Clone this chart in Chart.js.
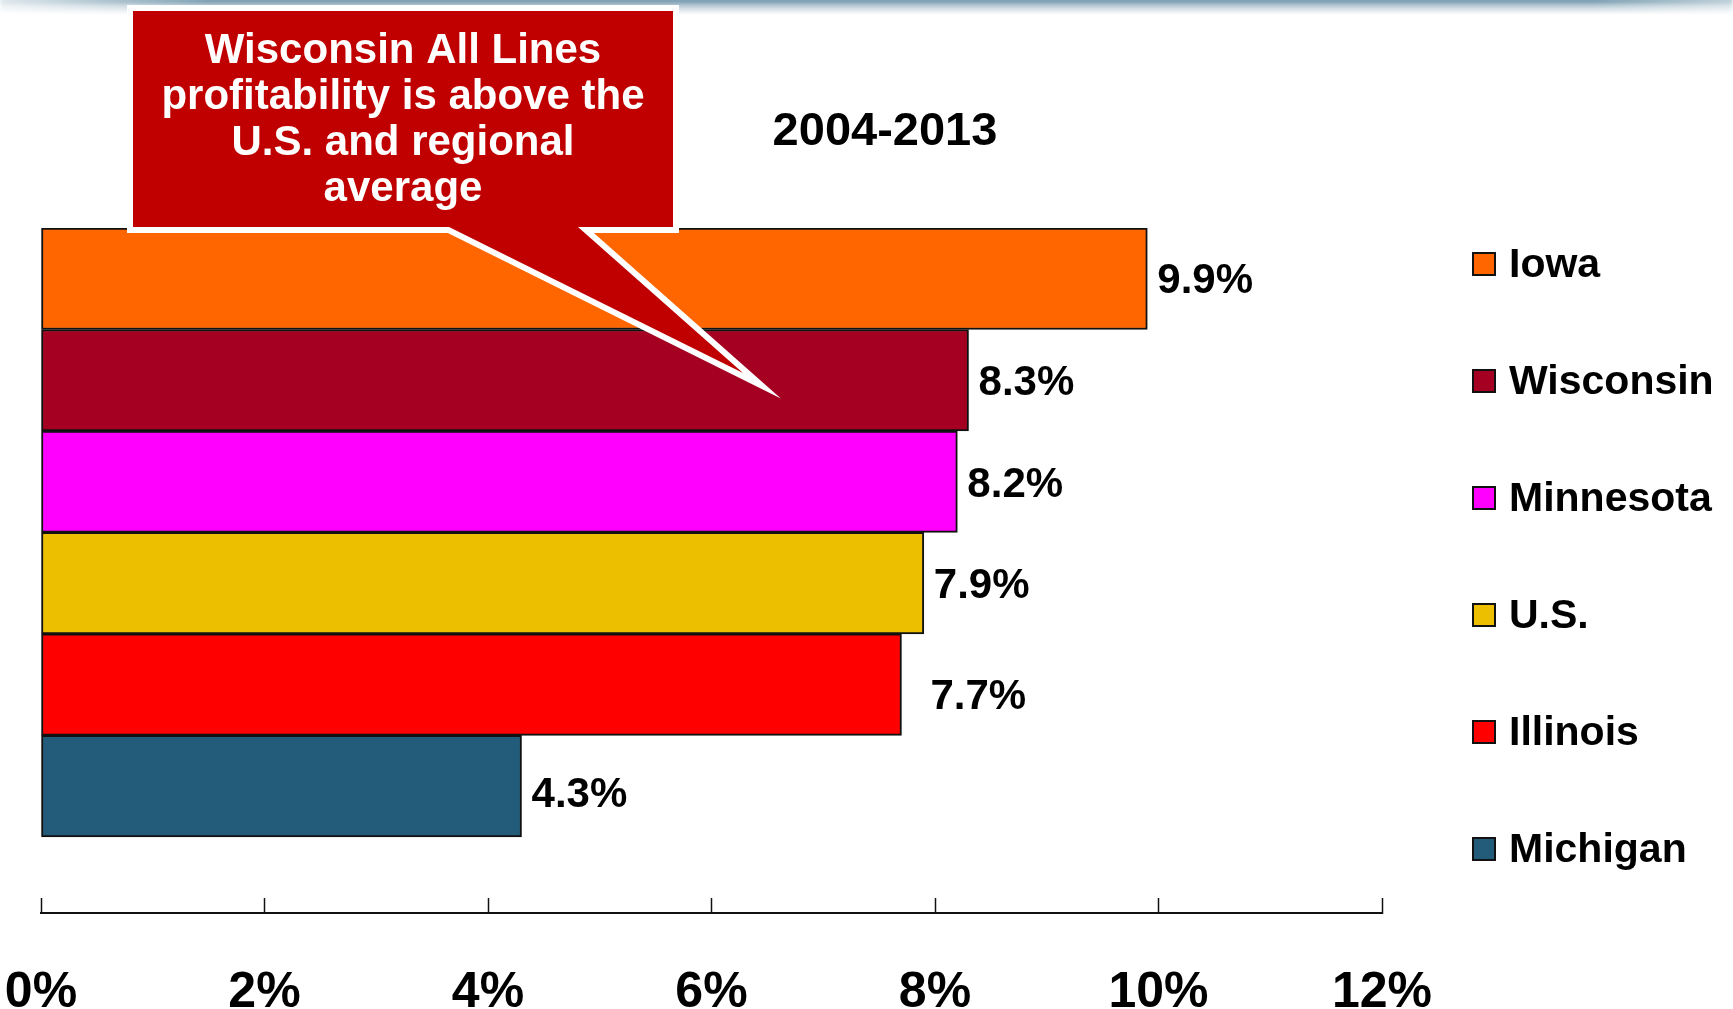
<!DOCTYPE html>
<html>
<head>
<meta charset="utf-8">
<title>All Lines Profitability 2004-2013</title>
<script src="https://cdn.jsdelivr.net/npm/chart.js@4/dist/chart.umd.min.js"></script>
<style>
  html, body { margin: 0; padding: 0; background: #ffffff; }
  #wrap { position: relative; width: 1733px; height: 1009px; overflow: hidden; background: #ffffff; }
  /* slide header strip */
  #band {
    position: absolute; left: 0; top: -2px; width: 1733px; height: 16px;
    background: linear-gradient(to bottom, rgba(45,100,130,0.95) 0%, rgba(110,150,172,0.55) 40%, rgba(255,255,255,0) 100%);
    -webkit-mask-image: linear-gradient(to right, rgba(0,0,0,0.25) 0%, rgba(0,0,0,1) 12%, rgba(0,0,0,1) 92%, rgba(0,0,0,0.5) 100%);
    mask-image: linear-gradient(to right, rgba(0,0,0,0.25) 0%, rgba(0,0,0,1) 12%, rgba(0,0,0,1) 92%, rgba(0,0,0,0.5) 100%);
    filter: blur(2px);
  }
  canvas { position: absolute; left: 0; top: 0; }
</style>
</head>
<body>
<div id="wrap">
  <div id="band"></div>
  <canvas id="chart" width="1733" height="1009"></canvas>
</div>
<script>
// Average all-lines profitability, 2004-2013 (percent)
const states = ['Iowa', 'Wisconsin', 'Minnesota', 'U.S.', 'Illinois', 'Michigan'];
const profitability = [9.9, 8.3, 8.2, 7.9, 7.7, 4.3];
const barColors = ['#FF6600', '#A50021', '#FF00FF', '#ECC000', '#FF0000', '#225C7A'];
const xTickValues = [0, 2, 4, 6, 8, 10, 12];
const periodTitle = '2004-2013';
const calloutLines = ['Wisconsin All Lines', 'profitability is above the', 'U.S. and regional', 'average'];

// small per-label nudges (gap right of the bar end, vertical drop) in px
const labelGap = [10, 10, 10, 10, 29, 10];
const labelDrop = [3, 3, 4, 3, 13, 9];

const FONT = '"Liberation Sans", Arial, Helvetica, sans-serif';

// value labels at the end of each bar
const valueLabels = {
  id: 'valueLabels',
  afterDatasetsDraw(chart) {
    const ctx = chart.ctx;
    const meta = chart.getDatasetMeta(0);
    ctx.save();
    ctx.font = 'bold 42px ' + FONT;
    ctx.fillStyle = '#000000';
    ctx.textAlign = 'left';
    ctx.textBaseline = 'middle';
    meta.data.forEach((bar, i) => {
      ctx.fillText(profitability[i].toFixed(1) + '%', bar.x + labelGap[i], bar.y + labelDrop[i]);
    });
    ctx.restore();
  }
};

// legend column on the right
const sideLegend = {
  id: 'sideLegend',
  afterDraw(chart) {
    const ctx = chart.ctx;
    const colors = chart.data.datasets[0].backgroundColor;
    const boxX = 1472, box = 24, textX = 1509, firstY = 264, step = 117;
    ctx.save();
    ctx.font = 'bold 41px ' + FONT;
    ctx.textAlign = 'left';
    ctx.textBaseline = 'middle';
    chart.data.labels.forEach((name, i) => {
      const cy = firstY + i * step;
      ctx.fillStyle = colors[i];
      ctx.fillRect(boxX, cy - box / 2, box, box);
      ctx.lineWidth = 2;
      ctx.strokeStyle = '#111111';
      ctx.strokeRect(boxX + 1, cy - box / 2 + 1, box - 2, box - 2);
      ctx.fillStyle = '#000000';
      ctx.fillText(name, textX, cy + 2);
    });
    ctx.restore();
  }
};

// period title and the red callout box
const callout = { left: 133, top: 11, right: 673, bottom: 227, baseL: 449, baseR: 578, tipX: 743, tipY: 373 };
const annotations = {
  id: 'annotations',
  afterDraw(chart) {
    const ctx = chart.ctx;
    ctx.save();
    ctx.font = 'bold 47px ' + FONT;
    ctx.fillStyle = '#000000';
    ctx.textAlign = 'center';
    ctx.textBaseline = 'middle';
    ctx.fillText(periodTitle, 885, 132);

    const c = callout;
    ctx.beginPath();
    ctx.moveTo(c.left, c.top);
    ctx.lineTo(c.right, c.top);
    ctx.lineTo(c.right, c.bottom);
    ctx.lineTo(c.baseR, c.bottom);
    ctx.lineTo(c.tipX, c.tipY);
    ctx.lineTo(c.baseL, c.bottom);
    ctx.lineTo(c.left, c.bottom);
    ctx.closePath();
    ctx.lineJoin = 'miter';
    ctx.miterLimit = 10;
    ctx.lineWidth = 12;
    ctx.strokeStyle = '#ffffff';
    ctx.stroke();
    ctx.fillStyle = '#C00000';
    ctx.fill();

    ctx.font = 'bold 42px ' + FONT;
    ctx.fillStyle = '#ffffff';
    const cx = (c.left + c.right) / 2;
    calloutLines.forEach((line, i) => {
      ctx.fillText(line, cx, 51 + i * 46);
    });
    ctx.restore();
  }
};

new Chart(document.getElementById('chart'), {
  type: 'bar',
  data: {
    labels: states,
    datasets: [{
      label: periodTitle,
      data: profitability.map((v, i) => ({ x: v, y: i })),
      backgroundColor: barColors,
      borderColor: '#111111',
      borderWidth: 2,
      borderSkipped: false,
      categoryPercentage: 1,
      barPercentage: 1
    }]
  },
  options: {
    indexAxis: 'y',
    responsive: false,
    animation: false,
    devicePixelRatio: 1,
    layout: { padding: { left: 41, right: 351, top: 228, bottom: 0 } },
    plugins: {
      legend: { display: false },
      tooltip: { enabled: false },
      title: { display: false }
    },
    scales: {
      x: {
        type: 'linear',
        position: 'bottom',
        min: 0,
        max: 12,
        afterBuildTicks: (s) => { s.ticks = xTickValues.map(v => ({ value: v })); },
        afterFit: (s) => {
          s.height = 96;
          s.paddingLeft = 0; s.paddingRight = 0; s.paddingTop = 0; s.paddingBottom = 0;
        },
        grid: {
          display: true,
          drawOnChartArea: false,
          drawTicks: true,
          tickLength: -15,
          tickWidth: 1.5,
          tickColor: '#111111'
        },
        border: { display: true, color: '#111111', width: 2 },
        ticks: {
          padding: 70,
          autoSkip: false,
          maxRotation: 0,
          color: '#000000',
          font: { family: FONT, size: 50, weight: 'bold', lineHeight: 1 },
          callback: (v) => v + '%'
        }
      },
      y: {
        type: 'linear',
        display: false,
        offset: false,
        reverse: true,
        min: -0.5,
        max: 6.25,
        afterBuildTicks: (s) => { s.ticks = states.map((_, i) => ({ value: i })); }
      }
    }
  },
  plugins: [valueLabels, annotations, sideLegend]
});
</script>
</body>
</html>
